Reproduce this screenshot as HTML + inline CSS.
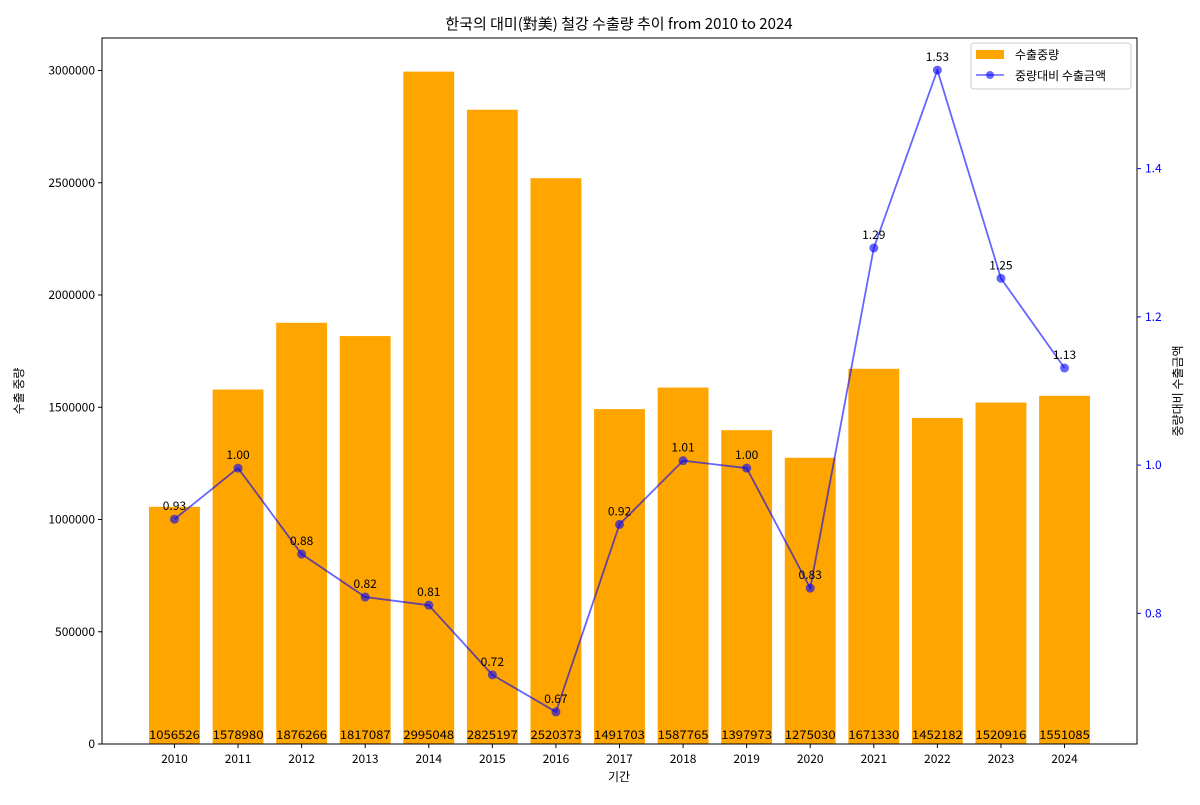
<!DOCTYPE html>
<html><head><meta charset="utf-8"><style>
html,body{margin:0;padding:0;background:#fff;}
svg text{font-family:"Noto Sans CJK KR","Liberation Sans",sans-serif;fill:#000;}
</style></head><body>
<svg id="chart" width="1200" height="800" viewBox="0 0 1200 800" xmlns="http://www.w3.org/2000/svg">
<text x="619" y="29" font-size="15" text-anchor="middle">한국의 대미(對美) 철강 수출량 추이 from 2010 to 2024</text>
<g id="bars"></g>
<g id="line"></g>
<g id="axes"></g>
<text x="619" y="781" font-size="12" text-anchor="middle">기간</text>
<text transform="translate(23,391) rotate(-90)" font-size="12" text-anchor="middle">수출 중량</text>
<text transform="translate(1182,391) rotate(-90)" font-size="12" text-anchor="middle">중량대비 수출금액</text>
<g>
<rect x="971" y="43" width="160" height="46" rx="3" fill="#fff" stroke="#ccc"/>
<rect x="976" y="50" width="28" height="9" fill="#ffa500"/>
<text x="1015" y="59" font-size="12">수출중량</text>
<line x1="976" y1="75" x2="1004" y2="75" stroke="#0000ff" stroke-opacity="0.6" stroke-width="1.5"/>
<circle cx="990" cy="75" r="4" fill="#0000ff" fill-opacity="0.6"/>
<text x="1015" y="80" font-size="12">중량대비 수출금액</text>
</g>
</svg>
<script>
const years = ["2010","2011","2012","2013","2014","2015","2016","2017","2018","2019","2020","2021","2022","2023","2024"];
const weights = [1056526,1578980,1876266,1817087,2995048,2825197,2520373,1491703,1587765,1397973,1275030,1671330,1452182,1520916,1551085];
const ratios = [0.927,0.996,0.880,0.822,0.811,0.717,0.667,0.920,1.006,0.996,0.834,1.293,1.533,1.252,1.131];
const leftTicks = [0,500000,1000000,1500000,2000000,2500000,3000000];
const rightTicks = [0.8,1.0,1.2,1.4];

const NS="http://www.w3.org/2000/svg";
const L=102,R=1137,T=38,B=744;
const n=years.length;
const xmin=-0.4-0.05*(n-1+0.8), xmax=n-1+0.4+0.05*(n-1+0.8);
const x=i=>L+(i-xmin)/(xmax-xmin)*(R-L);
const ymax=Math.max(...weights)*1.05;
const y=v=>B-v/ymax*(B-T);
const rmin=Math.min(...ratios), rmax=Math.max(...ratios), rp=(rmax-rmin)*0.05;
const y2=v=>B-(v-(rmin-rp))/((rmax+rp)-(rmin-rp))*(B-T);
function mk(tag,attrs,parent,text){const e=document.createElementNS(NS,tag);for(const k in attrs)e.setAttribute(k,attrs[k]);if(text!==undefined)e.textContent=text;parent.appendChild(e);return e;}
const bars=document.getElementById('bars'),line=document.getElementById('line'),axes=document.getElementById('axes');
const bw=(x(0.8)-x(0));
weights.forEach((w,i)=>{
  const r=mk('rect',{x:x(i)-bw/2,y:y(w),width:bw,height:B-y(w),fill:'#ffa500'},bars);
  
  
  const t=mk('text',{x:x(i),y:B-5,'font-size':12,'text-anchor':'middle','textLength':bw,'lengthAdjust':'spacingAndGlyphs'},bars,String(w));
  
  
});
const pts=ratios.map((v,i)=>x(i)+','+y2(v)).join(' ');
const pl=mk('polyline',{points:pts,fill:'none',stroke:'#0000ff','stroke-opacity':0.6,'stroke-width':1.8},line);


ratios.forEach((v,i)=>{
  const c=mk('circle',{cx:x(i),cy:y2(v),r:4.5,fill:'#0000ff','fill-opacity':0.6},line);
  
  
  const t=mk('text',{x:x(i),y:y2(v)-9,'font-size':12,'text-anchor':'middle'},line,v.toFixed(2));
  
  
});
const fr=mk('rect',{x:L,y:T,width:R-L,height:B-T,fill:'none',stroke:'#000','stroke-width':1},axes);


years.forEach((yr,i)=>{
  mk('line',{x1:x(i),x2:x(i),y1:B,y2:B+4,stroke:'#000'},axes);
  const t=mk('text',{x:x(i),y:B+19,'font-size':12,'text-anchor':'middle'},axes,yr);
  
  
});
leftTicks.forEach(v=>{
  mk('line',{x1:L-4,x2:L,y1:y(v),y2:y(v),stroke:'#000'},axes);
  const t=mk('text',{x:L-7,y:y(v)+4,'font-size':12,'text-anchor':'end'},axes,String(v));
  
  
});
rightTicks.forEach(v=>{
  mk('line',{x1:R,x2:R+4,y1:y2(v),y2:y2(v),stroke:'#0000ff'},axes);
  const t=mk('text',{x:R+8,y:y2(v)+4,'font-size':12,fill:'#0000ff',style:'fill:#0000ff'},axes,v.toFixed(1));
  
  
});
</script>
</body></html>
